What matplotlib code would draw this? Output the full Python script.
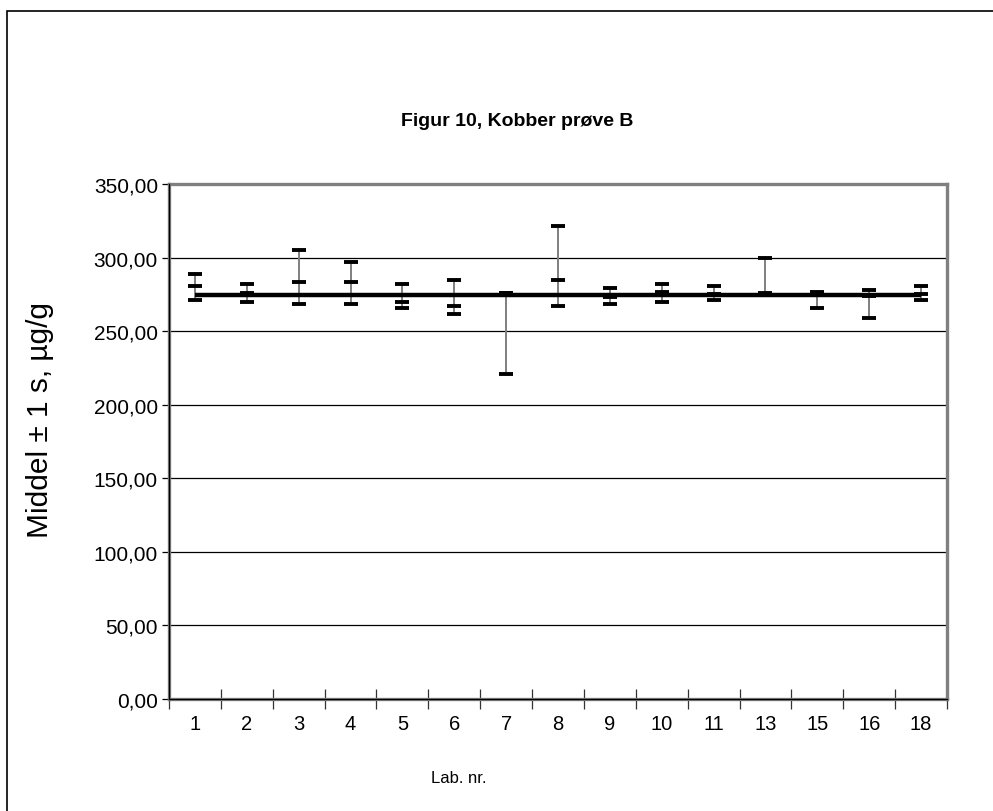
import matplotlib
matplotlib.use("Agg")
import matplotlib.pyplot as plt
from matplotlib.patches import Rectangle
from matplotlib.lines import Line2D
import numpy as np

plt.rcParams['font.family'] = ['Liberation Sans', 'DejaVu Sans']

# Lab numbers and mean ± 1 s (µg/g) for copper, sample B
labs = ["1", "2", "3", "4", "5", "6", "7", "8", "9", "10", "11", "13", "15", "16", "18"]
upper = [288.6, 281.8, 304.9, 296.8, 281.8, 284.5, 276.0, 321.2, 279.1, 281.8, 280.5, 299.5, 276.4, 277.8, 280.5]
mean = [280.5, 275.7, 283.2, 283.2, 269.6, 266.9, 275.9, 284.5, 273.4, 276.4, 275.2, 275.9, 275.9, 274.1, 275.2]
lower = [270.9, 269.6, 268.2, 268.2, 265.5, 261.4, 220.7, 266.9, 268.2, 269.6, 270.9, 275.5, 265.5, 258.7, 270.9]
assigned = 274.4

y_ticks = [0, 50, 100, 150, 200, 250, 300, 350]

W, H = 993, 812
fig = plt.figure(figsize=(W / 100, H / 100), dpi=100)
fig.patch.set_facecolor("white")

# chart-area frame
fig.add_artist(Rectangle((7 / W, -0.05), 1.2, (H - 12) / H + 0.05,
                         transform=fig.transFigure, fill=False,
                         edgecolor="black", linewidth=1.2, clip_on=False))

ax = fig.add_axes([169 / W, (H - 700) / H, 778 / W, 515 / H])
x = np.arange(len(labs))

ax.set_xlim(-0.5, len(labs) - 0.5)
ax.set_ylim(0, 350)

# horizontal gridlines
for v in y_ticks[1:-1]:
    ax.axhline(v, color="black", linewidth=0.9, zorder=1)

# assigned value line
ax.plot([x[0], x[-1]], [assigned, assigned], color="black", linewidth=3.2,
        solid_capstyle="butt", zorder=3)

# vertical ±1 s ranges
ax.vlines(x, lower, upper, color="#7f7f7f", linewidth=1.4, zorder=2)

# dashes for upper, mean, lower
for series in (upper, mean, lower):
    ax.plot(x, series, linestyle="none", marker="_", markersize=10,
            markeredgewidth=2.8, color="black", zorder=4)

# plot-area border
for s in ax.spines.values():
    s.set_color("#808080")
    s.set_linewidth(2.4)
ax.add_line(Line2D([0, 0], [0, 1], transform=ax.transAxes, color="black",
                   linewidth=0.9, zorder=5, clip_on=False))
ax.add_line(Line2D([0, 1], [0, 0], transform=ax.transAxes, color="black",
                   linewidth=0.9, zorder=5, clip_on=False))

ax.set_yticks(y_ticks)
ax.set_yticklabels([f"{v:.2f}".replace(".", ",") for v in y_ticks], fontsize=15)
ax.tick_params(axis="y", direction="out", length=5, width=0.9, color="black", pad=3)

ax.set_xticks(np.arange(-0.5, len(labs), 1.0))
ax.set_xticklabels([])
ax.set_xticks(x, minor=True)
ax.set_xticklabels(labs, minor=True, fontsize=14.5)
ax.tick_params(axis="x", which="major", direction="inout", length=14, width=0.9, color="#333333")
ax.tick_params(axis="x", which="minor", length=0, pad=11)

ax.set_ylabel("Middel ± 1 s, µg/g", fontsize=21.5, va="center")
ax.yaxis.set_label_coords(-0.166, 0.544)
ax.set_xlabel("Lab. nr.", fontsize=12, va="center")
ax.xaxis.set_label_coords(0.373, -0.153)

fig.text(517 / W, 1 - 121 / H, "Figur 10, Kobber prøve B", ha="center", va="center",
         fontsize=14, fontweight="bold")

fig.savefig("out.png", dpi=100)
